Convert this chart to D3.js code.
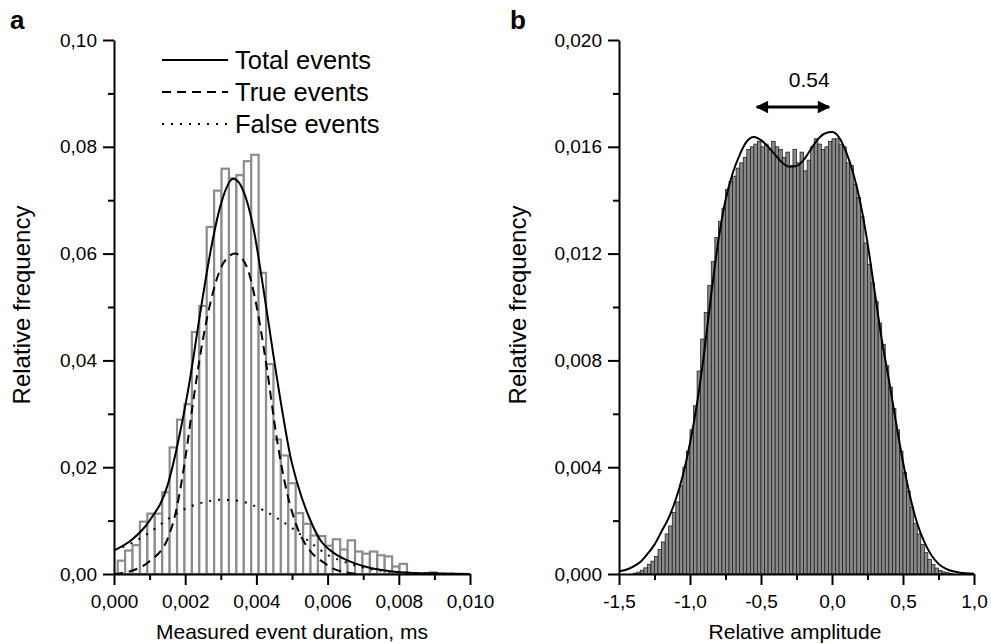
<!DOCTYPE html>
<html>
<head>
<meta charset="utf-8">
<script src="https://cdn.jsdelivr.net/npm/d3@7"></script>
<style>
  body { margin: 0; background: #fff; }
  text { font-family: "Liberation Sans", Arial, sans-serif; fill: #000; }
</style>
</head>
<body>
<svg id="chart" width="991" height="644"></svg>
<script>
// ---- panel a : histogram of event durations (bins of 1/4800 ms) ----
const aBinWidth = 1 / 4800;
const aFreq = [0.0025, 0.0044, 0.0054, 0.0098, 0.0113, 0.0113, 0.0153, 0.0237, 0.0289, 0.0318,
               0.0453, 0.0502, 0.0650, 0.0718, 0.0759, 0.0741, 0.0747, 0.0773, 0.0785, 0.0564,
               0.0393, 0.0252, 0.0222, 0.0170, 0.0114, 0.0094, 0.0072, 0.0071, 0.0053, 0.0065,
               0.0046, 0.0063, 0.0042, 0.0038, 0.0042, 0.0035, 0.0033, 0.0014, 0.0019, 0,
               0, 0, 0.0003];
// fitted curves: [duration, frequency]
const aTotalFit = [[0, 0.0044], [0.0005, 0.0064], [0.001, 0.0100], [0.0015, 0.0165], [0.00185, 0.0263],
                   [0.00213, 0.0363], [0.00242, 0.0488], [0.0027, 0.0600], [0.00298, 0.0687], [0.00335, 0.0740],
                   [0.00363, 0.0718], [0.00391, 0.0650], [0.00419, 0.0537], [0.00447, 0.0413], [0.00476, 0.0292],
                   [0.00494, 0.0225], [0.00518, 0.0163], [0.0055, 0.0103], [0.00579, 0.0064], [0.00616, 0.0040],
                   [0.00654, 0.0026], [0.0071, 0.0013], [0.00775, 0.0005], [0.0084, 0.0002], [0.0092, 0.0001], [0.01, 0]];
const aTrueFit = [[0, 0], [0.0005, 0.0006], [0.001, 0.0024], [0.0015, 0.0065], [0.00175, 0.0120],
                  [0.002, 0.0215], [0.00225, 0.0335], [0.0025, 0.0440], [0.00279, 0.0530], [0.00307, 0.0582],
                  [0.0034, 0.0600], [0.00373, 0.0575], [0.00401, 0.0500], [0.00429, 0.0387], [0.00457, 0.0255],
                  [0.00485, 0.0155], [0.00513, 0.0090], [0.0055, 0.0044], [0.00588, 0.0022], [0.00616, 0.0010],
                  [0.00654, 0.0003], [0.0069, 0]];
const aFalseFit = [[0, 0.0044], [0.0005, 0.0058], [0.001, 0.0078], [0.0015, 0.0102], [0.002, 0.0122],
                   [0.0025, 0.0134], [0.003, 0.0139], [0.0035, 0.0137], [0.004, 0.0126], [0.0045, 0.0108],
                   [0.005, 0.0086], [0.0055, 0.0060], [0.006, 0.0036], [0.0065, 0.0022], [0.007, 0.0012],
                   [0.0075, 0.0006], [0.008, 0.0003], [0.009, 0.0001], [0.01, 0]];
const aLegend = ["Total events", "True events", "False events"];
const aXTicks = [0, 0.002, 0.004, 0.006, 0.008, 0.010];
const aYTicks = [0, 0.02, 0.04, 0.06, 0.08, 0.10];

// ---- panel b : histogram of relative amplitudes (bins of 0.025 from -1.4) ----
const bBinStart = -1.4;
const bBinWidth = 0.025;
const bFreq = [0.00003, 0.00007, 0.00014, 0.00023, 0.00036, 0.00048, 0.00066, 0.00092, 0.0012, 0.0015,
               0.0018, 0.0023, 0.0027, 0.0033, 0.0040, 0.0046, 0.0054, 0.0063, 0.0076, 0.0088,
               0.0098, 0.0108, 0.0117, 0.0126, 0.0132, 0.0137, 0.0144, 0.0147, 0.0149, 0.0152,
               0.0154, 0.0156, 0.0159, 0.0160, 0.0161, 0.0162, 0.0160, 0.0161, 0.0159, 0.0162,
               0.0160, 0.0159, 0.0156, 0.0158, 0.0153, 0.0159, 0.0154, 0.0158, 0.0151, 0.0155,
               0.0160, 0.0163, 0.0161, 0.0159, 0.0160, 0.0162, 0.0163, 0.0163, 0.0161, 0.0160,
               0.0154, 0.0153, 0.0146, 0.0141, 0.0134, 0.0124, 0.0116, 0.0109, 0.0102, 0.0094,
               0.0086, 0.0078, 0.0070, 0.0062, 0.0054, 0.0046, 0.0038, 0.0031, 0.0025, 0.0019,
               0.0015, 0.0011, 0.0008, 0.00055, 0.00036, 0.00022, 0.00013, 0.00008, 0.00005, 0.00002];
const bFit = [[-1.5, 0.0001], [-1.45, 0.00016], [-1.4, 0.00028], [-1.35, 0.00045], [-1.3, 0.00075],
              [-1.25, 0.0011], [-1.2, 0.0016], [-1.15, 0.0021], [-1.1, 0.0028], [-1.05, 0.0037],
              [-1.0, 0.0049], [-0.95, 0.0064], [-0.9, 0.0083], [-0.85, 0.0105], [-0.8, 0.0125],
              [-0.75, 0.0140], [-0.7, 0.0150], [-0.65, 0.0157], [-0.6, 0.0162], [-0.55, 0.01637],
              [-0.5, 0.01625], [-0.45, 0.0160], [-0.4, 0.0157], [-0.35, 0.0154], [-0.3, 0.01525],
              [-0.25, 0.01528], [-0.2, 0.0155], [-0.15, 0.0159], [-0.1, 0.01628], [-0.05, 0.0165],
              [0, 0.01655], [0.05, 0.01635], [0.1, 0.0158], [0.15, 0.0150], [0.2, 0.0139],
              [0.25, 0.0124], [0.3, 0.0106], [0.35, 0.0088], [0.4, 0.0073], [0.45, 0.0057],
              [0.5, 0.0042], [0.55, 0.0029], [0.6, 0.0019], [0.65, 0.0012], [0.7, 0.0007],
              [0.75, 0.00038], [0.8, 0.0002], [0.85, 0.0001], [0.9, 0.00005], [1.0, 0.00001]];
const bPeaks = [-0.53, -0.02];   // arrow between the two maxima
const bPeakLabel = "0.54";
const bXTicks = [-1.5, -1.0, -0.5, 0.0, 0.5, 1.0];
const bYTicks = [0, 0.004, 0.008, 0.012, 0.016, 0.020];

// ---------------------------------------------------------------
const svg = d3.select("#chart");
const loc = d3.formatLocale({decimal: ",", thousands: ".", grouping: [3], currency: ["", ""], minus: "-"});

const xa = d3.scaleLinear().domain([0, 0.010]).range([114, 470]);
const ya = d3.scaleLinear().domain([0, 0.10]).range([574, 40]);
const xb = d3.scaleLinear().domain([-1.5, 1.0]).range([619, 974]);
const yb = d3.scaleLinear().domain([0, 0.020]).range([574, 40]);

function minorsOf(ticks) {
  const out = [];
  for (let i = 0; i < ticks.length - 1; i++) out.push((ticks[i] + ticks[i + 1]) / 2);
  return out;
}

function drawAxes(x, y, xt, yt, fx, fy) {
  const gx = svg.append("g").attr("transform", `translate(0,${y.range()[0]})`);
  gx.call(d3.axisBottom(x).tickValues(xt).tickSize(11).tickSizeOuter(0).tickPadding(10).tickFormat(loc.format(fx)));
  gx.append("g").call(d3.axisBottom(x).tickValues(minorsOf(xt)).tickSize(6).tickFormat(""))
    .select(".domain").remove();
  const gy = svg.append("g").attr("transform", `translate(${x.range()[0]},0)`);
  gy.call(d3.axisLeft(y).tickValues(yt).tickSize(11).tickSizeOuter(0).tickPadding(6).tickFormat(loc.format(fy)));
  gy.append("g").call(d3.axisLeft(y).tickValues(minorsOf(yt)).tickSize(6).tickFormat(""))
    .select(".domain").remove();
  [gx, gy].forEach(g => {
    g.selectAll("path, line").attr("stroke", "#000").attr("stroke-width", 2);
    g.selectAll("text").attr("font-size", 19).attr("font-family", "Liberation Sans, Arial, sans-serif");
  });
}

// panel a bars
svg.append("g").selectAll("rect")
  .data(aFreq.map((v, i) => ({x: (i + 1) * aBinWidth, v})).filter(d => d.v > 0))
  .join("rect")
  .attr("x", d => xa(d.x - aBinWidth / 2))
  .attr("width", xa(aBinWidth) - xa(0))
  .attr("y", d => ya(d.v))
  .attr("height", d => ya(0) - ya(d.v))
  .attr("fill", "#fff")
  .attr("stroke", "#8c8c8c")
  .attr("stroke-width", 2.2);

const lineA = d3.line().x(d => xa(d[0])).y(d => ya(d[1])).curve(d3.curveMonotoneX);
const aStyles = [
  {data: aTotalFit, dash: null},
  {data: aTrueFit, dash: "9,6"},
  {data: aFalseFit, dash: "2,7"}
];
aStyles.forEach(s => {
  svg.append("path").attr("d", lineA(s.data)).attr("fill", "none")
    .attr("stroke", "#000").attr("stroke-width", 2)
    .attr("stroke-dasharray", s.dash);
});

// legend
aLegend.forEach((name, i) => {
  const yy = 60 + i * 32;
  svg.append("line").attr("x1", 162).attr("x2", 228).attr("y1", yy).attr("y2", yy)
    .attr("stroke", "#000").attr("stroke-width", 2).attr("stroke-dasharray", aStyles[i].dash);
  svg.append("text").attr("x", 235).attr("y", yy).attr("dy", "0.35em")
    .attr("font-size", 25.5).text(name);
});

drawAxes(xa, ya, aXTicks, aYTicks, ".3f", ".2f");

// panel b bars
svg.append("g").selectAll("rect")
  .data(bFreq.map((v, i) => ({x0: bBinStart + i * bBinWidth, v})))
  .join("rect")
  .attr("x", d => xb(d.x0))
  .attr("width", xb(bBinWidth) - xb(0))
  .attr("y", d => yb(d.v))
  .attr("height", d => yb(0) - yb(d.v))
  .attr("fill", "#8a8a8a")
  .attr("stroke", "#222")
  .attr("stroke-width", 0.8);

const lineB = d3.line().x(d => xb(d[0])).y(d => yb(d[1])).curve(d3.curveMonotoneX);
svg.append("path").attr("d", lineB(bFit)).attr("fill", "none")
  .attr("stroke", "#000").attr("stroke-width", 2);

drawAxes(xb, yb, bXTicks, bYTicks, ".1f", ".3f");

// double arrow between maxima
const defs = svg.append("defs");
defs.append("marker").attr("id", "head").attr("viewBox", "0 0 10 10")
  .attr("refX", 9).attr("refY", 5).attr("markerWidth", 5).attr("markerHeight", 4.2)
  .attr("markerUnits", "strokeWidth").attr("orient", "auto-start-reverse")
  .append("path").attr("d", "M0,0L10,5L0,10z").attr("fill", "#000");
svg.append("line")
  .attr("x1", xb(bPeaks[0])).attr("x2", xb(bPeaks[1])).attr("y1", 107).attr("y2", 107)
  .attr("stroke", "#000").attr("stroke-width", 3)
  .attr("marker-start", "url(#head)").attr("marker-end", "url(#head)");
svg.append("text").attr("x", xb(-0.16)).attr("y", 80).attr("dy", "0.35em")
  .attr("text-anchor", "middle").attr("font-size", 21).text(bPeakLabel);

// axis titles and panel letters
svg.append("text").attr("x", 292).attr("y", 632).attr("dy", "0.35em").attr("text-anchor", "middle")
  .attr("font-size", 21).text("Measured event duration, ms");
svg.append("text").attr("x", 795).attr("y", 632).attr("dy", "0.35em").attr("text-anchor", "middle")
  .attr("font-size", 21).text("Relative amplitude");
svg.append("text").attr("transform", "translate(22,305) rotate(-90)").attr("dy", "0.35em")
  .attr("text-anchor", "middle").attr("font-size", 24).text("Relative frequency");
svg.append("text").attr("transform", "translate(518,305) rotate(-90)").attr("dy", "0.35em")
  .attr("text-anchor", "middle").attr("font-size", 24).text("Relative frequency");
svg.append("text").attr("x", 10).attr("y", 29).attr("font-size", 26).attr("font-weight", "bold").text("a");
svg.append("text").attr("x", 510).attr("y", 29).attr("font-size", 26).attr("font-weight", "bold").text("b");
</script>
</body>
</html>
